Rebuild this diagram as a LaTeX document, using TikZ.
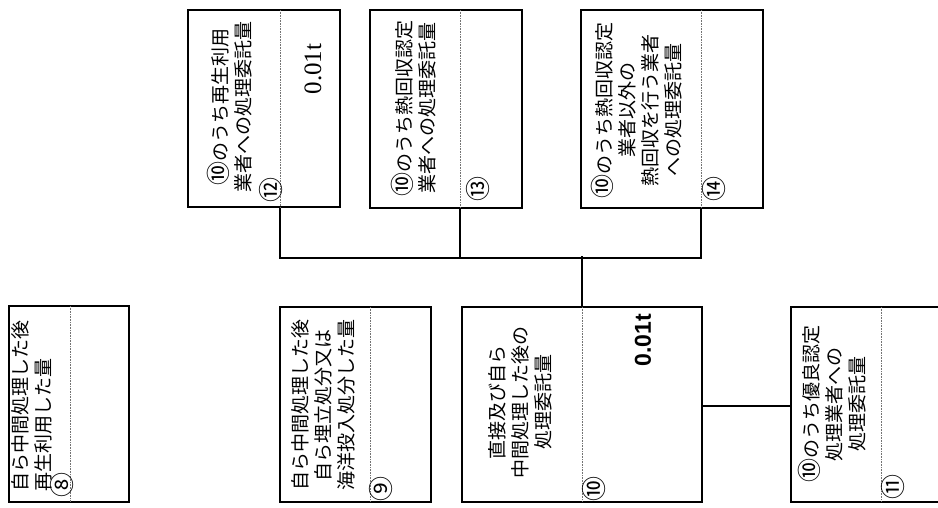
\documentclass[tikz,border=0pt]{standalone}
\usepackage{fontspec}
\newfontfamily\jp{Noto Sans CJK JP}
\newfontfamily\numserif{Liberation Serif}
\newfontfamily\numsans{Liberation Sans}
\newcommand{\cirten}{{\fontsize{24}{23}\selectfont ⑩}}
\tikzset{
  boxst/.style={draw, line width=1.8pt, inner sep=0pt},
  divline/.style={densely dotted, line width=0.6pt, black!55},
  conn/.style={line width=1.4pt},
  lbl/.style={rotate=90, font=\jp\fontsize{19}{23}\selectfont, align=center, inner sep=0pt},
  cnum/.style={rotate=90, font=\jp\fontsize{25}{25}\selectfont, inner sep=0pt},
}
\begin{document}
\begin{tikzpicture}[x=1pt,y=-1pt]
\useasboundingbox (0,0) rectangle (938,507);
% top row boxes
\node[boxst, minimum width=152pt, minimum height=197pt] (b12) at (264,108.5) {};
\node[boxst, minimum width=152pt, minimum height=198pt] (b13) at (446,109) {};
\node[boxst, minimum width=182pt, minimum height=198pt] (b14) at (672,109) {};
% bottom row boxes
\node[boxst, minimum width=120pt, minimum height=196pt] (b8) at (69,404) {};
\node[boxst, minimum width=151pt, minimum height=195pt] (b9) at (355.5,404.5) {};
\node[boxst, minimum width=240pt, minimum height=195pt] (b10) at (582,404.5) {};
\node[boxst, minimum width=170pt, minimum height=195pt] (b11) at (876,404.5) {};
% dividers
\draw[divline] (280,10) -- (280,207);
\draw[divline] (460,10) -- (460,208);
\draw[divline] (701,10) -- (701,208);
\draw[divline] (70,306) -- (70,502);
\draw[divline] (370,307) -- (370,502);
\draw[divline] (582,307) -- (582,502);
\draw[divline] (881,307) -- (881,502);
% connectors
\coordinate (s12) at (b12.south -| 280,0);
\coordinate (s13) at (b13.south -| 460,0);
\coordinate (s14) at (b14.south -| 701,0);
\draw[conn] (s12) -- ++(0,50) -| (s14);
\draw[conn] (s13) -- ++(0,50);
\draw[conn] (b10.north) -- ++(0,-50);
\draw[conn] (b10.east |- 0,406) -- (b11.west |- 0,406);
% texts
\node[lbl] (t12) at (230,107) {\cirten のうち再生利用\\業者への処理委託量};
\node[lbl] (t13) at (414,108) {\cirten のうち熱回収認定\\業者への処理委託量};
\node[lbl] (t14) at (637,110) {\cirten のうち熱回収認定\\業者以外の\\熱回収を行う業者\\への処理委託量};
\node[lbl, align=left, anchor=west] (t8) at (32,492) {自ら中間処理した後\\再生利用した量};
\node[lbl] (t9) at (323,405) {自ら中間処理した後\\自ら埋立処分又は\\海洋投入処分した量};
\node[lbl] (t10) at (520,402) {直接及び自ら\\中間処理した後の\\処理委託量};
\node[lbl] (t11) at (832,404) {\cirten のうち優良認定\\処理業者への\\処理委託量};
% circled numbers
\node[cnum] (n8) at (62,485) {⑧};
\node[cnum] (n9) at (381,489) {⑨};
\node[cnum] (n10) at (594,489) {⑩};
\node[cnum] (n11) at (893,487) {⑪};
\node[cnum] (n12) at (271,190) {⑫};
\node[cnum] (n13) at (478,189) {⑬};
\node[cnum] (n14) at (714,189) {⑭};
% values
\node[rotate=90, font=\numserif\fontsize{25}{25}\selectfont, inner sep=0pt] (v12) at (313,69) {0.01t};
\node[rotate=90, font=\numsans\bfseries\fontsize{23}{23}\selectfont, inner sep=0pt] (v10) at (643,340) {0.01t};
\end{tikzpicture}
\end{document}
